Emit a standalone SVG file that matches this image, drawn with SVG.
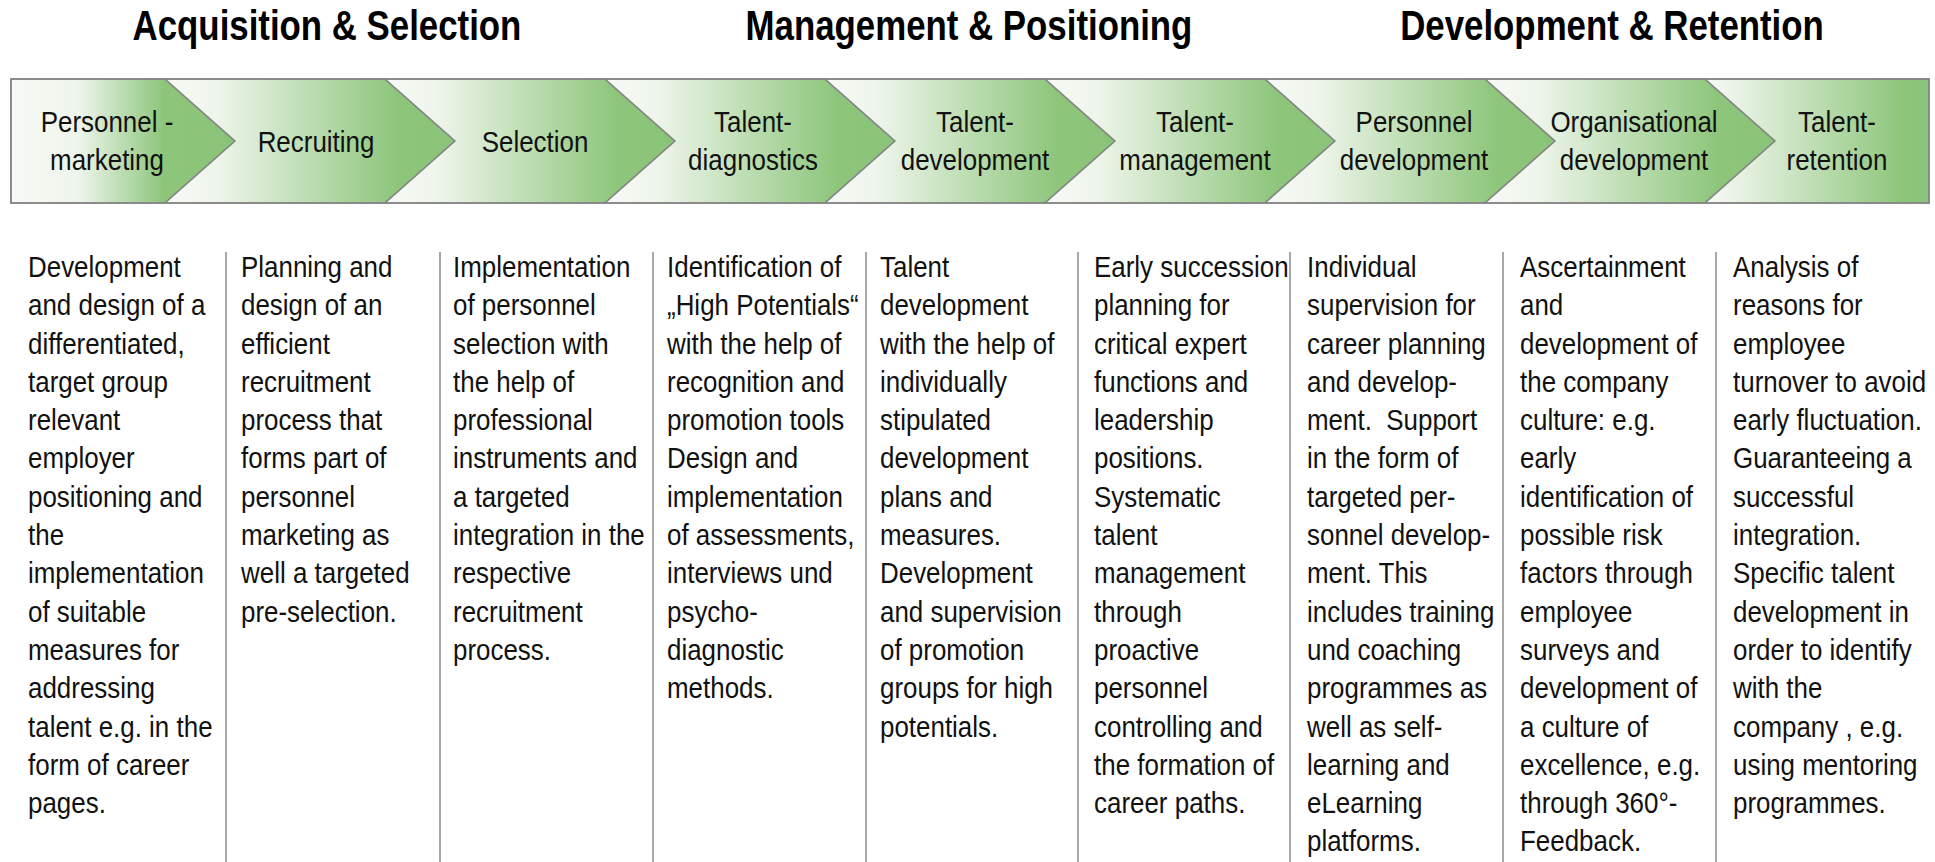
<svg xmlns="http://www.w3.org/2000/svg" width="1935" height="862" viewBox="0 0 1935 862">
<defs>
<linearGradient id="g0" x1="0" y1="0" x2="1" y2="0">
<stop offset="0" stop-color="#f7faf6"/>
<stop offset="0.3" stop-color="#eef5eb"/>
<stop offset="0.68" stop-color="#8dc67b"/>
<stop offset="1" stop-color="#8ac478"/>
</linearGradient>
<linearGradient id="g1" x1="0" y1="0" x2="1" y2="0">
<stop offset="0" stop-color="#f7faf6"/>
<stop offset="0.18" stop-color="#eef5eb"/>
<stop offset="0.8" stop-color="#8dc67b"/>
<stop offset="1" stop-color="#8ac478"/>
</linearGradient>
<linearGradient id="g2" x1="0" y1="0" x2="1" y2="0">
<stop offset="0" stop-color="#f7faf6"/>
<stop offset="0.1" stop-color="#eef5eb"/>
<stop offset="0.88" stop-color="#8dc67b"/>
<stop offset="1" stop-color="#8ac478"/>
</linearGradient>
<style>
.chev{stroke:#858585;stroke-width:1.5;stroke-linejoin:miter}
.div{stroke:#8c8c8c;stroke-width:1.5}
.h{font-family:"Liberation Sans",Arial,sans-serif;font-weight:bold;font-size:43px;fill:#000;text-anchor:middle}
.lab{font-family:"Liberation Sans",Arial,sans-serif;font-size:30px;fill:#111;text-anchor:middle}
.body{font-family:"Liberation Sans",Arial,sans-serif;font-size:30px;fill:#111}
</style>
</defs>
<rect width="1935" height="862" fill="#ffffff"/>

<g id="headings">
<g transform="translate(327,40) scale(0.81,1)"><text class="h" x="0" y="0">Acquisition &amp; Selection</text></g>
<g transform="translate(969,40) scale(0.81,1)"><text class="h" x="0" y="0">Management &amp; Positioning</text></g>
<g transform="translate(1612,40) scale(0.81,1)"><text class="h" x="0" y="0">Development &amp; Retention</text></g>
</g>

<g id="banner">
<g id="chev0">
<path class="chev" fill="url(#g0)" d="M11,79 L165,79 L235,141 L165,203 L11,203 Z"/>
<g transform="translate(107,0) scale(0.865,1)"><text class="lab"><tspan x="0" y="132">Personnel -</tspan><tspan x="0" y="170">marketing</tspan></text></g>
</g>
<g id="chev1">
<path class="chev" fill="url(#g1)" d="M165,79 L385,79 L455,141 L385,203 L165,203 L235,141 Z"/>
<g transform="translate(316,0) scale(0.865,1)"><text class="lab" x="0" y="152">Recruiting</text></g>
</g>
<g id="chev2">
<path class="chev" fill="url(#g1)" d="M385,79 L605,79 L675,141 L605,203 L385,203 L455,141 Z"/>
<g transform="translate(535,0) scale(0.865,1)"><text class="lab" x="0" y="152">Selection</text></g>
</g>
<g id="chev3">
<path class="chev" fill="url(#g1)" d="M605,79 L825,79 L895,141 L825,203 L605,203 L675,141 Z"/>
<g transform="translate(753,0) scale(0.865,1)"><text class="lab"><tspan x="0" y="132">Talent-</tspan><tspan x="0" y="170">diagnostics</tspan></text></g>
</g>
<g id="chev4">
<path class="chev" fill="url(#g1)" d="M825,79 L1045,79 L1115,141 L1045,203 L825,203 L895,141 Z"/>
<g transform="translate(975,0) scale(0.865,1)"><text class="lab"><tspan x="0" y="132">Talent-</tspan><tspan x="0" y="170">development</tspan></text></g>
</g>
<g id="chev5">
<path class="chev" fill="url(#g1)" d="M1045,79 L1265,79 L1335,141 L1265,203 L1045,203 L1115,141 Z"/>
<g transform="translate(1195,0) scale(0.865,1)"><text class="lab"><tspan x="0" y="132">Talent-</tspan><tspan x="0" y="170">management</tspan></text></g>
</g>
<g id="chev6">
<path class="chev" fill="url(#g1)" d="M1265,79 L1485,79 L1555,141 L1485,203 L1265,203 L1335,141 Z"/>
<g transform="translate(1414,0) scale(0.865,1)"><text class="lab"><tspan x="0" y="132">Personnel</tspan><tspan x="0" y="170">development</tspan></text></g>
</g>
<g id="chev7">
<path class="chev" fill="url(#g1)" d="M1485,79 L1705,79 L1775,141 L1705,203 L1485,203 L1555,141 Z"/>
<g transform="translate(1634,0) scale(0.865,1)"><text class="lab"><tspan x="0" y="132">Organisational</tspan><tspan x="0" y="170">development</tspan></text></g>
</g>
<g id="chev8">
<path class="chev" fill="url(#g2)" d="M1705,79 L1929,79 L1929,203 L1705,203 L1775,141 Z"/>
<g transform="translate(1837,0) scale(0.865,1)"><text class="lab"><tspan x="0" y="132">Talent-</tspan><tspan x="0" y="170">retention</tspan></text></g>
</g>
<rect x="11" y="79" width="1918" height="124" fill="none" stroke="#858585" stroke-width="1.5"/>
</g>

<g id="connectors">
<line class="div" x1="226" y1="252" x2="226" y2="862"/>
<line class="div" x1="440" y1="252" x2="440" y2="862"/>
<line class="div" x1="653" y1="252" x2="653" y2="862"/>
<line class="div" x1="866" y1="252" x2="866" y2="862"/>
<line class="div" x1="1078" y1="252" x2="1078" y2="862"/>
<line class="div" x1="1290" y1="252" x2="1290" y2="862"/>
<line class="div" x1="1503" y1="252" x2="1503" y2="862"/>
<line class="div" x1="1716" y1="252" x2="1716" y2="862"/>
</g>

<g id="col0" transform="translate(28,0) scale(0.865,1)">
<text class="body"><tspan x="0" y="277">Development</tspan><tspan x="0" y="315.3">and design of a</tspan><tspan x="0" y="353.6">differentiated,</tspan><tspan x="0" y="391.9">target group</tspan><tspan x="0" y="430.2">relevant</tspan><tspan x="0" y="468.5">employer</tspan><tspan x="0" y="506.8">positioning and</tspan><tspan x="0" y="545.1">the</tspan><tspan x="0" y="583.4">implementation</tspan><tspan x="0" y="621.7">of suitable</tspan><tspan x="0" y="660">measures for</tspan><tspan x="0" y="698.3">addressing</tspan><tspan x="0" y="736.6">talent e.g. in the</tspan><tspan x="0" y="774.9">form of career</tspan><tspan x="0" y="813.2">pages.</tspan></text>
</g>
<g id="col1" transform="translate(241,0) scale(0.865,1)">
<text class="body"><tspan x="0" y="277">Planning and</tspan><tspan x="0" y="315.3">design of an</tspan><tspan x="0" y="353.6">efficient</tspan><tspan x="0" y="391.9">recruitment</tspan><tspan x="0" y="430.2">process that</tspan><tspan x="0" y="468.5">forms part of</tspan><tspan x="0" y="506.8">personnel</tspan><tspan x="0" y="545.1">marketing as</tspan><tspan x="0" y="583.4">well a targeted</tspan><tspan x="0" y="621.7">pre-selection.</tspan></text>
</g>
<g id="col2" transform="translate(453,0) scale(0.865,1)">
<text class="body"><tspan x="0" y="277">Implementation</tspan><tspan x="0" y="315.3">of personnel</tspan><tspan x="0" y="353.6">selection with</tspan><tspan x="0" y="391.9">the help of</tspan><tspan x="0" y="430.2">professional</tspan><tspan x="0" y="468.5">instruments and</tspan><tspan x="0" y="506.8">a targeted</tspan><tspan x="0" y="545.1">integration in the</tspan><tspan x="0" y="583.4">respective</tspan><tspan x="0" y="621.7">recruitment</tspan><tspan x="0" y="660">process.</tspan></text>
</g>
<g id="col3" transform="translate(667,0) scale(0.865,1)">
<text class="body"><tspan x="0" y="277">Identification of</tspan><tspan x="0" y="315.3">„High Potentials“</tspan><tspan x="0" y="353.6">with the help of</tspan><tspan x="0" y="391.9">recognition and</tspan><tspan x="0" y="430.2">promotion tools</tspan><tspan x="0" y="468.5">Design and</tspan><tspan x="0" y="506.8">implementation</tspan><tspan x="0" y="545.1">of assessments,</tspan><tspan x="0" y="583.4">interviews und</tspan><tspan x="0" y="621.7">psycho-</tspan><tspan x="0" y="660">diagnostic</tspan><tspan x="0" y="698.3">methods.</tspan></text>
</g>
<g id="col4" transform="translate(880,0) scale(0.865,1)">
<text class="body"><tspan x="0" y="277">Talent</tspan><tspan x="0" y="315.3">development</tspan><tspan x="0" y="353.6">with the help of</tspan><tspan x="0" y="391.9">individually</tspan><tspan x="0" y="430.2">stipulated</tspan><tspan x="0" y="468.5">development</tspan><tspan x="0" y="506.8">plans and</tspan><tspan x="0" y="545.1">measures.</tspan><tspan x="0" y="583.4">Development</tspan><tspan x="0" y="621.7">and supervision</tspan><tspan x="0" y="660">of promotion</tspan><tspan x="0" y="698.3">groups for high</tspan><tspan x="0" y="736.6">potentials.</tspan></text>
</g>
<g id="col5" transform="translate(1094,0) scale(0.865,1)">
<text class="body"><tspan x="0" y="277">Early succession</tspan><tspan x="0" y="315.3">planning for</tspan><tspan x="0" y="353.6">critical expert</tspan><tspan x="0" y="391.9">functions and</tspan><tspan x="0" y="430.2">leadership</tspan><tspan x="0" y="468.5">positions.</tspan><tspan x="0" y="506.8">Systematic</tspan><tspan x="0" y="545.1">talent</tspan><tspan x="0" y="583.4">management</tspan><tspan x="0" y="621.7">through</tspan><tspan x="0" y="660">proactive</tspan><tspan x="0" y="698.3">personnel</tspan><tspan x="0" y="736.6">controlling and</tspan><tspan x="0" y="774.9">the formation of</tspan><tspan x="0" y="813.2">career paths.</tspan></text>
</g>
<g id="col6" transform="translate(1307,0) scale(0.865,1)">
<text class="body"><tspan x="0" y="277">Individual</tspan><tspan x="0" y="315.3">supervision for</tspan><tspan x="0" y="353.6">career planning</tspan><tspan x="0" y="391.9">and develop-</tspan><tspan x="0" y="430.2">ment.&#160; Support</tspan><tspan x="0" y="468.5">in the form of</tspan><tspan x="0" y="506.8">targeted per-</tspan><tspan x="0" y="545.1">sonnel develop-</tspan><tspan x="0" y="583.4">ment. This</tspan><tspan x="0" y="621.7">includes training</tspan><tspan x="0" y="660">und coaching</tspan><tspan x="0" y="698.3">programmes as</tspan><tspan x="0" y="736.6">well as self-</tspan><tspan x="0" y="774.9">learning and</tspan><tspan x="0" y="813.2">eLearning</tspan><tspan x="0" y="851.5">platforms.</tspan></text>
</g>
<g id="col7" transform="translate(1520,0) scale(0.865,1)">
<text class="body"><tspan x="0" y="277">Ascertainment</tspan><tspan x="0" y="315.3">and</tspan><tspan x="0" y="353.6">development of</tspan><tspan x="0" y="391.9">the company</tspan><tspan x="0" y="430.2">culture: e.g.</tspan><tspan x="0" y="468.5">early</tspan><tspan x="0" y="506.8">identification of</tspan><tspan x="0" y="545.1">possible risk</tspan><tspan x="0" y="583.4">factors through</tspan><tspan x="0" y="621.7">employee</tspan><tspan x="0" y="660">surveys and</tspan><tspan x="0" y="698.3">development of</tspan><tspan x="0" y="736.6">a culture of</tspan><tspan x="0" y="774.9">excellence, e.g.</tspan><tspan x="0" y="813.2">through 360°-</tspan><tspan x="0" y="851.5">Feedback.</tspan></text>
</g>
<g id="col8" transform="translate(1733,0) scale(0.865,1)">
<text class="body"><tspan x="0" y="277">Analysis of</tspan><tspan x="0" y="315.3">reasons for</tspan><tspan x="0" y="353.6">employee</tspan><tspan x="0" y="391.9">turnover to avoid</tspan><tspan x="0" y="430.2">early fluctuation.</tspan><tspan x="0" y="468.5">Guaranteeing a</tspan><tspan x="0" y="506.8">successful</tspan><tspan x="0" y="545.1">integration.</tspan><tspan x="0" y="583.4">Specific talent</tspan><tspan x="0" y="621.7">development in</tspan><tspan x="0" y="660">order to identify</tspan><tspan x="0" y="698.3">with the</tspan><tspan x="0" y="736.6">company , e.g.</tspan><tspan x="0" y="774.9">using mentoring</tspan><tspan x="0" y="813.2">programmes.</tspan></text>
</g>
</svg>
